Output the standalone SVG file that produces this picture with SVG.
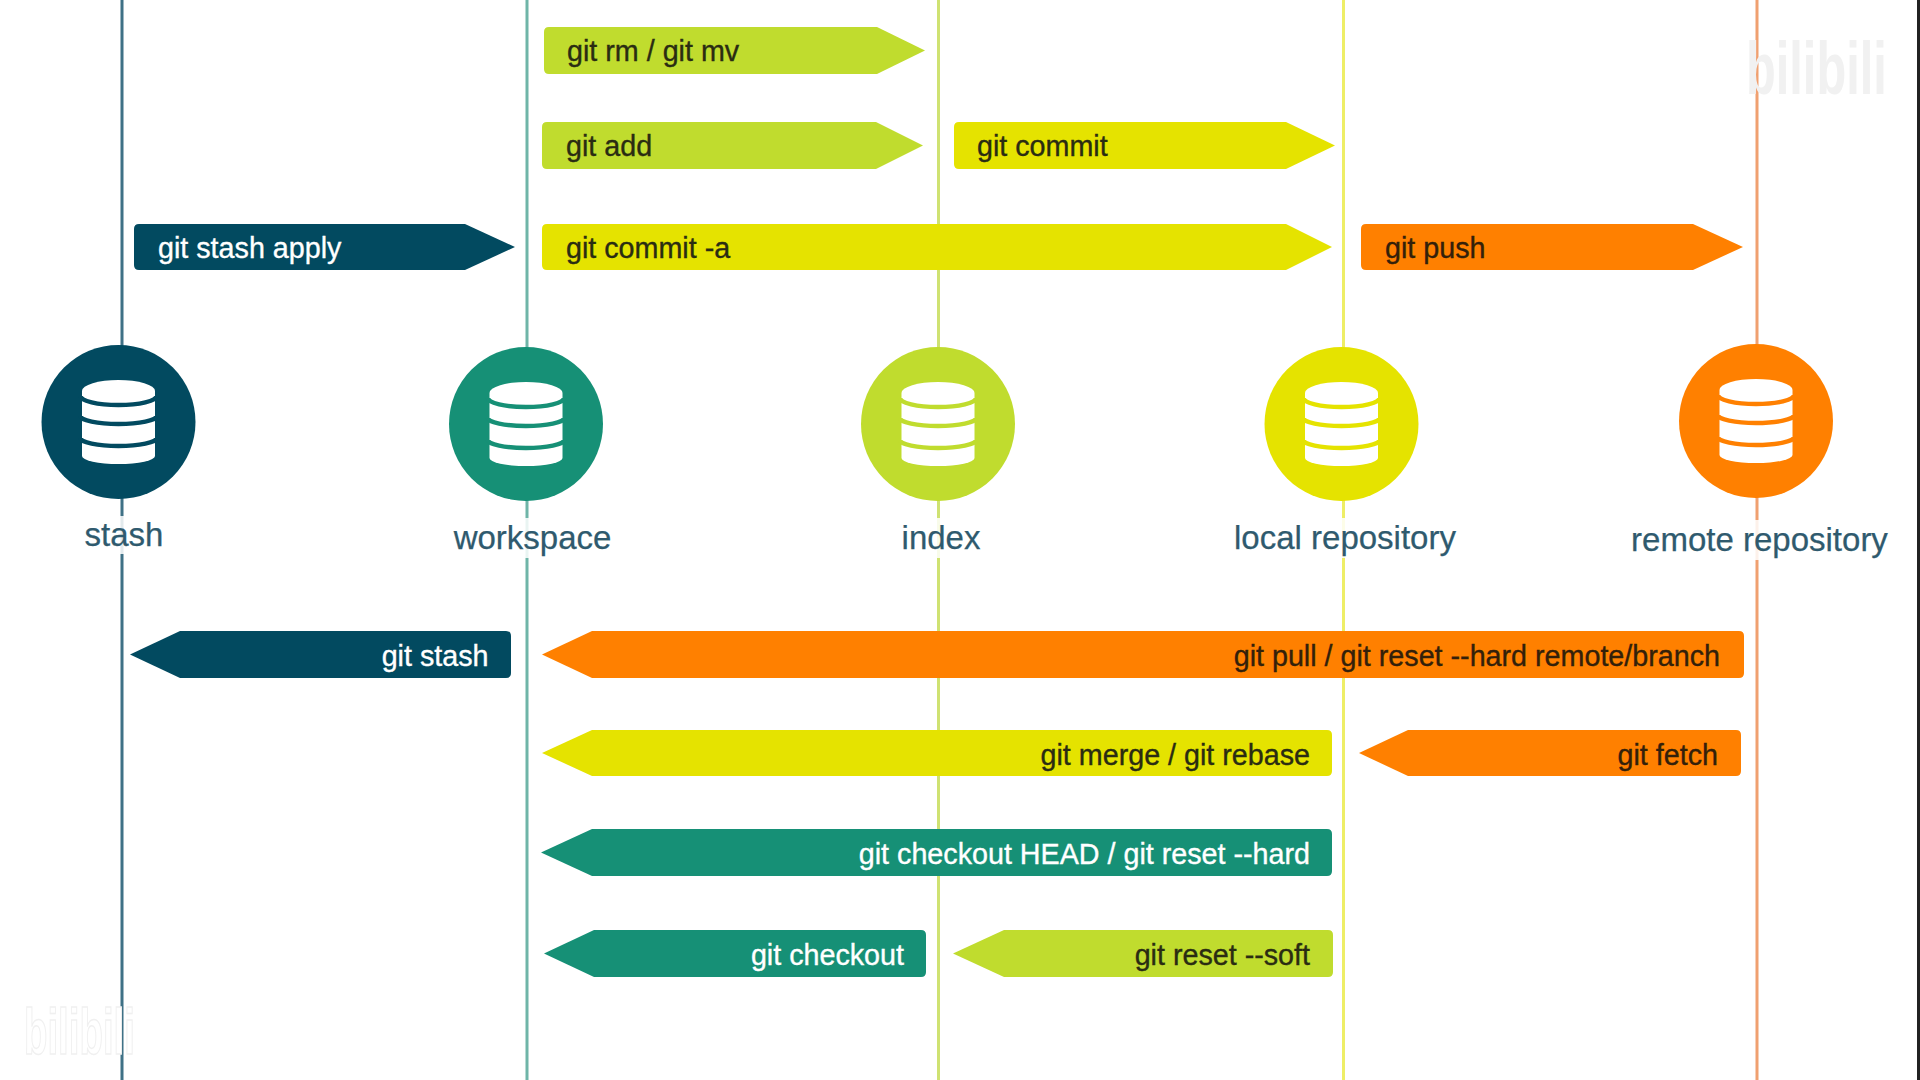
<svg xmlns="http://www.w3.org/2000/svg" width="1920" height="1080" viewBox="0 0 1920 1080">
<style>
text{font-family:"Liberation Sans",Arial,sans-serif}
.lab{font-size:33px;fill:#2f5a6e;text-anchor:middle;stroke:#2f5a6e;stroke-width:.25}
.cmd{font-size:28.7px;stroke-width:.35}
.dk{fill:#2a2c12;stroke:#2a2c12}
.or{fill:#33200a;stroke:#33200a}
.wh{fill:#fff;stroke:#fff}
.r{text-anchor:end}
.ln{stroke-width:3;fill:none}
.wm{font-weight:700}
</style>
<defs>
<g id="db">
<path fill="#fff" d="M-36.500,-31A36.500 11 0 0 1 36.500,-31V34A36.500 8 0 0 1 -36.500,34Z"/>
<path fill="none" stroke="currentColor" stroke-width="4.500" d="M-38,-26A38 9 0 0 0 38,-26M-38,-6A38 8 0 0 0 38,-6M-38,16A38 8 0 0 0 38,16"/>
</g>
</defs>
<rect width="1920" height="1080" fill="#fff"/>
<rect x="1917" y="0" width="3" height="1080" fill="#222"/>
<g id="connectors">
<line class="ln" x1="122" y1="0" x2="122" y2="1080" stroke="#3f7186"/>
<line class="ln" x1="527" y1="0" x2="527" y2="1080" stroke="#6fb5a8"/>
<line class="ln" x1="938.500" y1="0" x2="938.500" y2="1080" stroke="#cfe272"/>
<line class="ln" x1="1343.500" y1="0" x2="1343.500" y2="1080" stroke="#eeee66"/>
<line class="ln" x1="1757" y1="0" x2="1757" y2="1080" stroke="#f0a070"/>
</g>
<g id="watermarks">
<text class="wm" font-size="75" transform="translate(1746 94) scale(.65 1)" fill="#f1f1f1">bilibili</text>
<text class="wm" font-size="64" transform="translate(24 1054) scale(.6 1)" fill="#fff" stroke="#f0f0f0" stroke-width="1.500">bilibili</text>
</g>
<g id="node-stash" color="#024a60">
<circle cx="118.500" cy="422" r="77" fill="#024a60"/>
<use href="#db" x="118.500" y="422"/>
<rect x="82" y="516" width="84" height="38" fill="#fff" opacity=".85"/>
<text class="lab" x="124" y="545.500">stash</text>
</g>
<g id="node-workspace" color="#169076">
<circle cx="526" cy="424" r="77" fill="#169076"/>
<use href="#db" x="526" y="424"/>
<rect x="450" y="518" width="164" height="40" fill="#fff" opacity=".85"/>
<text class="lab" x="532.500" y="548.500">workspace</text>
</g>
<g id="node-index" color="#c0dc2e">
<circle cx="938" cy="424" r="77" fill="#c0dc2e"/>
<use href="#db" x="938" y="424"/>
<rect x="898" y="518" width="86" height="40" fill="#fff" opacity=".85"/>
<text class="lab" x="941" y="548.500">index</text>
</g>
<g id="node-local-repository" color="#e5e300">
<circle cx="1341.500" cy="424" r="77" fill="#e5e300"/>
<use href="#db" x="1341.500" y="424"/>
<rect x="1230" y="518" width="228" height="40" fill="#fff" opacity=".85"/>
<text class="lab" x="1345" y="548.500">local repository</text>
</g>
<g id="node-remote-repository" color="#ff8000">
<circle cx="1756" cy="421" r="77" fill="#ff8000"/>
<use href="#db" x="1756" y="421"/>
<rect x="1628" y="520" width="262" height="40" fill="#fff" opacity=".85"/>
<text class="lab" x="1759.500" y="550.500">remote repository</text>
</g>
<g id="cmd-git-rm">
<path fill="#c0dc2e" d="M549,27H877L925,50.500L877,74H549Q544,74 544,69V32Q544,27 549,27Z"/>
<text class="cmd dk" x="567" y="61">git rm / git mv</text>
</g>
<g id="cmd-git-add">
<path fill="#c0dc2e" d="M547,122H876L923,145.500L876,169H547Q542,169 542,164V127Q542,122 547,122Z"/>
<text class="cmd dk" x="566" y="156">git add</text>
</g>
<g id="cmd-git-commit">
<path fill="#e5e300" d="M959,122H1286L1335,145.500L1286,169H959Q954,169 954,164V127Q954,122 959,122Z"/>
<text class="cmd dk" x="977" y="156">git commit</text>
</g>
<g id="cmd-git-stash-apply">
<path fill="#024a60" d="M139,224H465L515,247L465,270H139Q134,270 134,265V229Q134,224 139,224Z"/>
<text class="cmd wh" x="158" y="258">git stash apply</text>
</g>
<g id="cmd-git-commit-a">
<path fill="#e5e300" d="M547,224H1286L1332,247L1286,270H547Q542,270 542,265V229Q542,224 547,224Z"/>
<text class="cmd dk" x="566" y="258">git commit -a</text>
</g>
<g id="cmd-git-push">
<path fill="#ff8000" d="M1366,224H1693L1743,247L1693,270H1366Q1361,270 1361,265V229Q1361,224 1366,224Z"/>
<text class="cmd or" x="1385" y="258">git push</text>
</g>
<g id="cmd-git-stash">
<path fill="#024a60" d="M506,631H180L130,654.500L180,678H506Q511,678 511,673V636Q511,631 506,631Z"/>
<text class="cmd wh r" x="488.500" y="666">git stash</text>
</g>
<g id="cmd-git-pull">
<path fill="#ff8000" d="M1739,631H592L542,654.500L592,678H1739Q1744,678 1744,673V636Q1744,631 1739,631Z"/>
<text class="cmd or r" x="1720" y="666">git pull / git reset --hard remote/branch</text>
</g>
<g id="cmd-git-merge">
<path fill="#e5e300" d="M1327,730H592L542,753L592,776H1327Q1332,776 1332,771V735Q1332,730 1327,730Z"/>
<text class="cmd dk r" x="1310" y="765">git merge / git rebase</text>
</g>
<g id="cmd-git-fetch">
<path fill="#ff8000" d="M1736,730H1408L1359,753L1408,776H1736Q1741,776 1741,771V735Q1741,730 1736,730Z"/>
<text class="cmd or r" x="1718" y="765">git fetch</text>
</g>
<g id="cmd-git-checkout-head">
<path fill="#169076" d="M1327,829H592L541,852.500L592,876H1327Q1332,876 1332,871V834Q1332,829 1327,829Z"/>
<text class="cmd wh r" x="1310" y="864">git checkout HEAD / git reset --hard</text>
</g>
<g id="cmd-git-checkout">
<path fill="#169076" d="M921,930H594L544,953.500L594,977H921Q926,977 926,972V935Q926,930 921,930Z"/>
<text class="cmd wh r" x="904" y="965">git checkout</text>
</g>
<g id="cmd-git-reset-soft">
<path fill="#c0dc2e" d="M1328,930H1004L953,953.500L1004,977H1328Q1333,977 1333,972V935Q1333,930 1328,930Z"/>
<text class="cmd dk r" x="1310" y="965">git reset --soft</text>
</g>
</svg>
